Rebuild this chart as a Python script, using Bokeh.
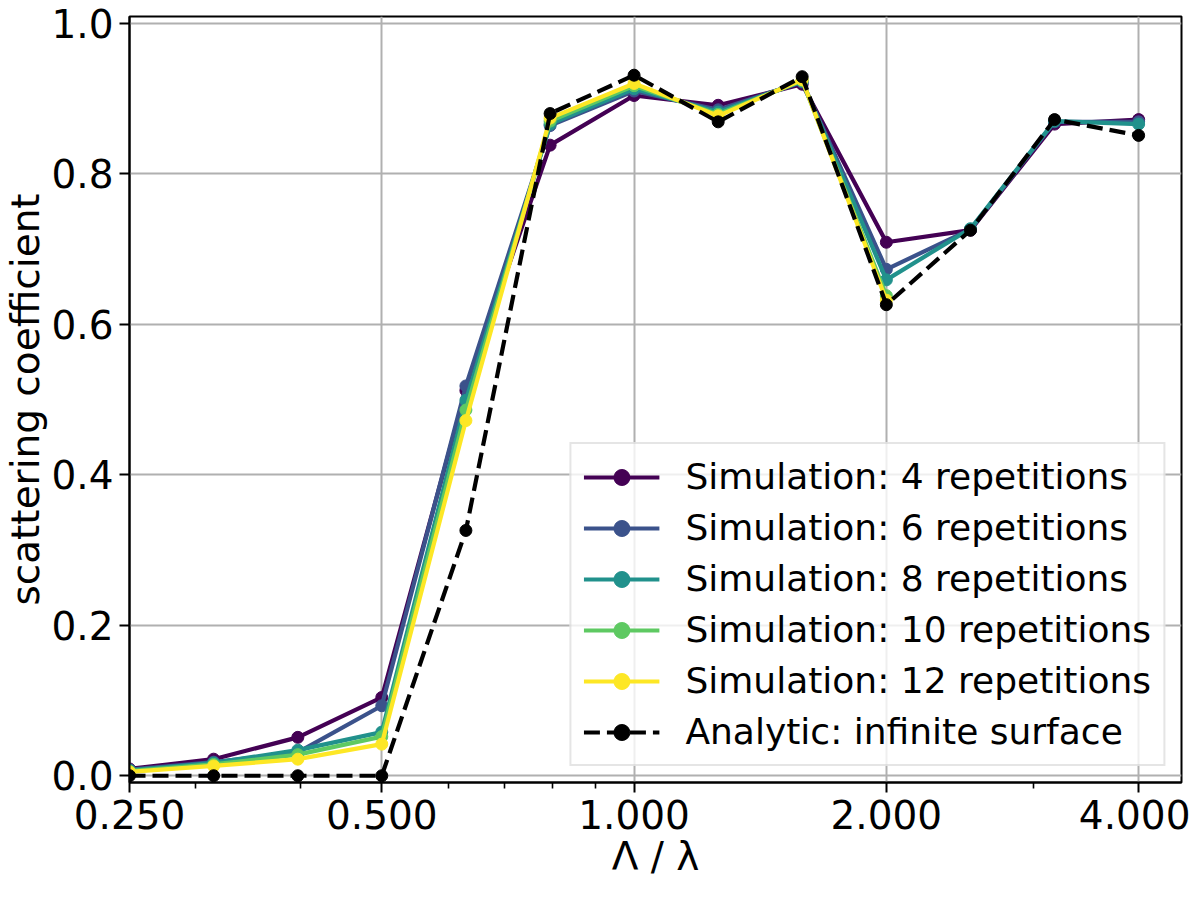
from bokeh.plotting import figure
from bokeh.models import Range1d, FixedTicker, PrintfTickFormatter
from bokeh.embed import file_html
from bokeh.resources import INLINE

# ---- data ----
x = [0.250, 0.315, 0.397, 0.500, 0.630, 0.794, 1.000, 1.260, 1.587, 2.000, 2.520, 3.175, 4.000]

sim4 = [0.009, 0.022, 0.051, 0.104, 0.512, 0.838, 0.904, 0.891, 0.919, 0.709, 0.725, 0.866, 0.872]
sim6 = [0.008, 0.018, 0.031, 0.093, 0.518, 0.864, 0.910, 0.885, 0.922, 0.673, 0.726, 0.869, 0.869]
sim8 = [0.007, 0.017, 0.034, 0.058, 0.499, 0.866, 0.913, 0.882, 0.923, 0.659, 0.727, 0.870, 0.866]
sim10 = [0.006, 0.015, 0.028, 0.052, 0.486, 0.870, 0.917, 0.879, 0.924, 0.638]
sim12 = [0.005, 0.013, 0.022, 0.042, 0.472, 0.874, 0.920, 0.877, 0.925, 0.632]
analytic = [0.000, 0.000, 0.000, 0.000, 0.326, 0.880, 0.931, 0.869, 0.929, 0.626, 0.725, 0.872, 0.851]

series_labels = [
    "Simulation: 4 repetitions",
    "Simulation: 6 repetitions",
    "Simulation: 8 repetitions",
    "Simulation: 10 repetitions",
    "Simulation: 12 repetitions",
]
analytic_label = "Analytic: infinite surface"
colors = ["#440154", "#3b528b", "#21918c", "#5ec962", "#fde725"]

x_ticks = [0.25, 0.5, 1.0, 2.0, 4.0]
x_minor_ticks = [0.3, 0.4, 0.6, 0.7, 0.8, 0.9, 3.0]
y_ticks = [0.0, 0.2, 0.4, 0.6, 0.8, 1.0]
x_label = "Λ / λ"
y_label = "scattering coefficient"

FONT = "DejaVu Sans"
FS = "39px"
LFS = "36px"

p = figure(
    width=1190, height=881,
    x_axis_type="log",
    x_range=Range1d(0.25, 4.5),
    y_range=Range1d(-0.009, 1.009),
    output_backend="svg",
    toolbar_location=None,
    min_border_left=125, min_border_right=9,
    min_border_top=16, min_border_bottom=40,
)
p.background_fill_color = "white"
p.border_fill_color = "white"
p.outline_line_color = "black"
p.outline_line_width = 2

# series
all_sims = [sim4, sim6, sim8, sim10, sim12]
for ys, col, lab in zip(all_sims, colors, series_labels):
    xs = x[: len(ys)]
    p.line(xs, ys, line_color=col, line_width=4.2, legend_label=lab)
    p.scatter(xs, ys, marker="circle", size=12, fill_color=col, line_color=col, legend_label=lab)

p.line(x, analytic, line_color="black", line_width=4.2, line_dash="16 7", legend_label=analytic_label)
p.scatter(x, analytic, marker="circle", size=12, fill_color="black", line_color="black", legend_label=analytic_label)

# axes
xa = p.xaxis[0]
xa.ticker = FixedTicker(ticks=x_ticks, minor_ticks=x_minor_ticks)
xa.formatter = PrintfTickFormatter(format="%.3f")
ya = p.yaxis[0]
ya.ticker = FixedTicker(ticks=y_ticks)
ya.formatter = PrintfTickFormatter(format="%.1f")

for ax in (xa, ya):
    ax.axis_line_color = "black"
    ax.axis_line_width = 2
    ax.major_tick_line_color = "black"
    ax.major_tick_line_width = 2
    ax.major_tick_in = 0
    ax.major_tick_out = 10
    ax.minor_tick_line_color = "black"
    ax.minor_tick_line_width = 1.6
    ax.minor_tick_in = 0
    ax.minor_tick_out = 6
    ax.major_label_text_font = FONT
    ax.major_label_text_font_size = FS
    ax.major_label_text_color = "black"
    ax.axis_label_text_font = FONT
    ax.axis_label_text_font_size = FS
    ax.axis_label_text_font_style = "normal"
    ax.axis_label_text_color = "black"

xa.axis_label = x_label
xa.major_label_standoff = 7
xa.axis_label_standoff = 2
ya.axis_label = y_label
ya.major_label_standoff = 6
ya.axis_label_standoff = 0

p.xgrid.grid_line_color = "#b0b0b0"
p.xgrid.grid_line_width = 2
p.ygrid.grid_line_color = "#b0b0b0"
p.ygrid.grid_line_width = 2

# legend
lg = p.legend[0]
lg.location = "bottom_right"
lg.margin = 16
lg.padding = 12
lg.spacing = 10
lg.glyph_width = 76
lg.glyph_height = 40
lg.label_height = 40
lg.label_standoff = 26
lg.label_text_font = FONT
lg.label_text_font_size = LFS
lg.label_text_color = "black"
lg.border_line_color = "#cccccc"
lg.border_line_width = 2
lg.background_fill_color = "white"
lg.background_fill_alpha = 0.8

open("out.html", "w").write(file_html(p, INLINE))
